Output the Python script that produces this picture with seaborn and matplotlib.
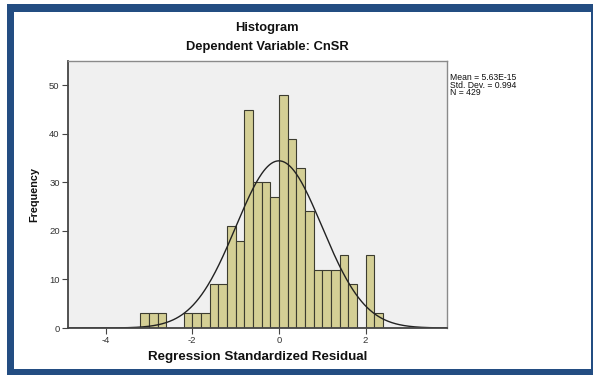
import numpy as np
import pandas as pd
import seaborn as sns
import matplotlib.pyplot as plt
from matplotlib.patches import Rectangle

# histogram bins (width 0.2) starting at -3.2, and the counts
bin_start = -3.2
bin_width = 0.2
counts = [3, 3, 3, 0, 0, 3, 3, 3, 9, 9, 21, 18, 45, 30, 30, 27,
          48, 39, 33, 24, 12, 12, 12, 15, 9, 0, 15, 3]

# summary stats printed next to the plot
mean_val = 5.63e-15
std_val = 0.994
n_val = 429
stats_lines = ['Mean = 5.63E-15', 'Std. Dev. = 0.994', 'N = 429']

x_ticks = [-4, -2, 0, 2]
y_ticks = [0, 10, 20, 30, 40, 50]

edges = bin_start + bin_width * np.arange(len(counts) + 1)
centers = edges[:-1] + bin_width / 2
df = pd.DataFrame({'residual': centers, 'count': counts})

sns.set_style('white')
plt.rcParams['font.family'] = ['Liberation Sans', 'DejaVu Sans']
plt.rcParams['axes.unicode_minus'] = False

W, H = 593, 375
fig = plt.figure(figsize=(W / 100, H / 100), dpi=100)
fig.patch.set_facecolor('white')

# blue frame around the chart (cropped on the right and bottom)
blue = '#234d82'
fig.patches.append(Rectangle((7 / W, 0), 1, 1 - 4 / H, transform=fig.transFigure,
                             facecolor=blue, edgecolor='none', zorder=-2))
fig.patches.append(Rectangle((14 / W, 6 / H), (591 - 14) / W, (369 - 12) / H,
                             transform=fig.transFigure, facecolor='white',
                             edgecolor='none', zorder=-1))

ax = fig.add_axes([68 / W, 1 - 328 / H, (447 - 68) / W, (328 - 61) / H])
ax.set_facecolor('#f0f0f0')

sns.histplot(data=df, x='residual', weights='count', bins=[float(e) for e in edges],
             ax=ax, stat='count',
             color='#d4cf95', edgecolor='#3c3c30', linewidth=0.8, alpha=1)

# normal curve scaled to the histogram
xs = np.linspace(-4.87, 3.88, 400)
ys = n_val * bin_width * np.exp(-0.5 * ((xs - mean_val) / std_val) ** 2) / (std_val * np.sqrt(2 * np.pi))
ax.plot(xs, ys, color='#222222', linewidth=1.0)

ax.set_xlim(-4.87, 3.88)
ax.set_ylim(0, 55)
ax.set_xticks(x_ticks)
ax.set_yticks(y_ticks)
ax.tick_params(axis='both', direction='out', length=4, width=0.8, color='#444444',
               labelsize=6.8, labelcolor='#333333', pad=2)
ax.tick_params(axis='x', bottom=True)
ax.tick_params(axis='y', left=True)
for side in ['left', 'bottom']:
    ax.spines[side].set_color('#444444')
    ax.spines[side].set_linewidth(1.3)
for side in ['top', 'right']:
    ax.spines[side].set_visible(True)
    ax.spines[side].set_color('#8a8a8a')
    ax.spines[side].set_linewidth(1.0)

ax.set_xlabel('Regression Standardized Residual', fontsize=9.6, fontweight='bold',
              color='#111111', labelpad=4)
ax.set_ylabel('Frequency', fontsize=7.8, fontweight='bold', color='#111111', labelpad=7)

fig.text(267 / W, 1 - 28 / H, 'Histogram', ha='center', va='center',
         fontsize=9.3, fontweight='bold', color='#111111')
fig.text(267 / W, 1 - 47 / H, 'Dependent Variable: CnSR', ha='center', va='center',
         fontsize=9.3, fontweight='bold', color='#111111')

fig.text(450 / W, 1 - 73 / H, '\n'.join(stats_lines), ha='left', va='top',
         fontsize=6.2, color='#111111', linespacing=0.8)

fig.savefig('out.png', dpi=100)
